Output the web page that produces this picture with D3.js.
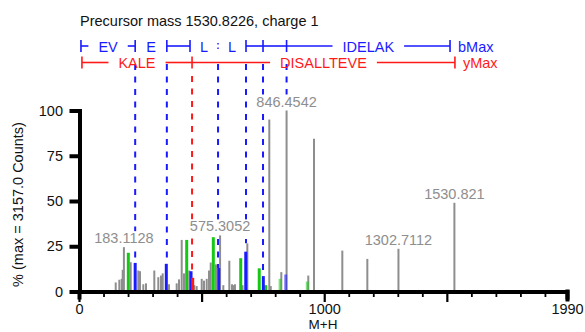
<!DOCTYPE html>
<html>
<head>
<meta charset="utf-8">
<script src="https://cdn.jsdelivr.net/npm/d3@7"></script>
<style>
  html, body { margin: 0; padding: 0; background: #fff; }
  svg { display: block; font-family: "Liberation Sans", Arial, sans-serif; }
</style>
</head>
<body>
<svg id="chart" width="585" height="332"></svg>
<script>
// ---------------- data ----------------
const titleText = "Precursor mass 1530.8226, charge 1";
const yAxisLabel = "% (max = 3157.0 Counts)";
const xAxisLabel = "M+H";
const xDomain = [0, 1990];
const yTicks = [0, 25, 50, 75, 100];
const xLabelTicks = [0, 1000, 1990];

// peaks: m/z, relative intensity (%), ion type (o = unassigned, n = neutral-loss / other, b = b ion, y = y ion)
const peakMass = [149.7, 164.4, 174.1, 178.2, 183.11, 201.1, 210.9, 229.1, 241.8, 248.8,
  262.2, 273.2, 307.1, 323.4, 334.4, 341.4, 356.0, 367.0, 398.4, 407.8,
  418.8, 428.2, 439.2, 449.8, 456.8, 463.7, 470.2, 480.0, 500.4, 509.8,
  520.8, 530.2, 537.1, 547.7, 558.7, 569.7, 575.31, 588.5, 613.0, 624.0,
  630.0, 636.0, 659.5, 667.0, 680.0, 686.4, 735.0, 751.6, 761.4, 776.0,
  782.0, 820.0, 825.0, 843.0, 846.45, 931.0, 935.0, 958.4, 1073.8, 1175.8,
  1302.71, 1530.82];
const peakPct = [5, 6.5, 7, 12, 24.5, 21.4, 16.2, 15.8, 11.6, 11.2,
  4, 4.5, 11.6, 7.9, 8.8, 10, 15.3, 4, 4.5, 6.7,
  28.5, 10, 28.5, 11.6, 11.2, 7.6, 3.5, 3, 7, 6,
  7, 11.6, 16, 30, 15, 13, 31, 3.5, 17, 4,
  3.5, 4, 18.4, 3.5, 22, 26.6, 12.8, 8.5, 3.5, 95,
  3, 7, 10.7, 9.4, 100, 5.5, 8.8, 84.4, 22.6, 18,
  23.6, 49];
const peakType = ["o", "o", "o", "o", "o", "n", "o", "b", "o", "o",
  "o", "o", "o", "o", "o", "o", "b", "o", "o", "o",
  "o", "o", "n", "o", "b", "y", "o", "o", "o", "o",
  "o", "o", "o", "n", "o", "b", "o", "o", "o", "o",
  "o", "o", "n", "o", "b", "o", "n", "b", "n", "o",
  "o", "n", "o", "b", "o", "n", "o", "o", "o", "o",
  "o", "o"];

// labelled peaks
const labelMass = [183.11, 575.31, 846.45, 1302.71, 1530.82];
const labelText = ["183.1128", "575.3052", "846.4542", "1302.7112", "1530.821"];

// fragment ladders: boundaries (m/z) and residue labels between them
const bBounds = [8, 229.1, 358.2, 452.7, 567, 681, 750.4, 846.45, 1513];
const bLabels = ["EV", "E", "", "L", "L", "", "", "IDELAK"];
const bWeak = [567];                      // ambiguous cleavage shown as ":"
const bMatched = [229.1, 358.2, 567, 681, 750.4, 846.45];
const yBounds = [12, 461, 1533];
const yLabels = ["KALE", "DISALLTEVE"];
const yMatched = [461];
const bEndLabel = "bMax";
const yEndLabel = "yMax";

// ---------------- drawing ----------------
const svg = d3.select("#chart");
const FONT = 14.5;
const GRAY = "#8e8e8e";
const BLUE = "#1a1aff";
const RED = "#ff1a1a";
const GREEN = "#14c814";

const x = d3.scaleLinear().domain(xDomain).range([79, 567]);
const y = d3.scaleLinear().domain([0, 100]).range([291.5, 110.5]);

// title
svg.append("text").attr("x", 80).attr("y", 26)
  .attr("font-size", FONT).attr("fill", "#111").text(titleText);

// dashed guide lines end at the top of the tallest peak sitting under them
function guideEnd(m) {
  let top = y(0);
  peakMass.forEach((pm, i) => {
    if (Math.abs(x(pm) - x(m)) < 1.6) top = Math.min(top, y(peakPct[i]));
  });
  return top;
}
svg.append("g").selectAll("line").data(bMatched).join("line")
  .attr("x1", d => x(d)).attr("x2", d => x(d))
  .attr("y1", 64).attr("y2", d => guideEnd(d))
  .attr("stroke", BLUE).attr("stroke-width", 2)
  .attr("stroke-dasharray", "6,6.5");
svg.append("g").selectAll("line").data(yMatched).join("line")
  .attr("x1", d => x(d)).attr("x2", d => x(d))
  .attr("y1", 76).attr("y2", d => guideEnd(d))
  .attr("stroke", RED).attr("stroke-width", 2)
  .attr("stroke-dasharray", "6,6.5");

// ladder drawing
function drawLadder(bounds, labels, rowY, color, weak, endLabel, tickTop, tickBot, textBase) {
  const g = svg.append("g");
  const GAP = 10;
  for (let i = 0; i < bounds.length - 1; i++) {
    const x0 = x(bounds[i]), x1 = x(bounds[i + 1]);
    const lab = labels[i];
    if (lab) {
      const t = g.append("text").attr("x", (x0 + x1) / 2).attr("y", textBase)
        .attr("text-anchor", "middle").attr("font-size", FONT).attr("fill", color).text(lab);
      const w = t.node().getComputedTextLength();
      const a = (x0 + x1) / 2 - w / 2 - GAP, b = (x0 + x1) / 2 + w / 2 + GAP;
      if (a - x0 > 1.5) g.append("line").attr("x1", x0).attr("x2", a).attr("y1", rowY).attr("y2", rowY)
        .attr("stroke", color).attr("stroke-width", 1.6);
      if (x1 - b > 1.5) g.append("line").attr("x1", b).attr("x2", x1).attr("y1", rowY).attr("y2", rowY)
        .attr("stroke", color).attr("stroke-width", 1.6);
    } else {
      g.append("line").attr("x1", x0).attr("x2", x1).attr("y1", rowY).attr("y2", rowY)
        .attr("stroke", color).attr("stroke-width", 1.6);
    }
  }
  bounds.forEach(m => {
    const isWeak = weak.includes(m);
    g.append("line").attr("x1", x(m)).attr("x2", x(m))
      .attr("y1", isWeak ? tickTop + 3 : tickTop).attr("y2", isWeak ? tickBot - 2 : tickBot)
      .attr("stroke", color).attr("stroke-width", isWeak ? 1.4 : 1.6)
      .attr("stroke-dasharray", isWeak ? "1.5,3" : null);
  });
  const last = bounds[bounds.length - 1];
  g.append("text").attr("x", x(last) + 8).attr("y", textBase)
    .attr("font-size", FONT).attr("fill", color).text(endLabel);
}
drawLadder(bBounds, bLabels, 46, BLUE, bWeak, bEndLabel, 40, 52, 51.5);
drawLadder(yBounds, yLabels, 62.5, RED, [], yEndLabel, 56.5, 68.5, 68);

// peak labels (white backing hides the dashed guide lines)
const lg = svg.append("g");
labelMass.forEach((m, i) => {
  const idx = peakMass.indexOf(m);
  const ty = y(peakPct[idx]) - 4;
  const r = lg.append("rect").attr("fill", "#fff");
  const t = lg.append("text").attr("x", x(m)).attr("y", ty)
    .attr("text-anchor", "middle").attr("font-size", FONT).attr("fill", GRAY).text(labelText[i]);
  const bb = t.node().getBBox();
  r.attr("x", bb.x - 1).attr("y", bb.y + 1).attr("width", bb.width + 2).attr("height", bb.height + 2);
});

// peaks
const peaks = peakMass.map((m, i) => ({ m, p: peakPct[i], t: peakType[i] }));
const order = { o: 0, n: 1, b: 2, y: 3 };
const colorOf = { o: GRAY, n: GREEN, b: BLUE, y: RED };
peaks.sort((a, b) => order[a.t] - order[b.t]);
svg.append("g").selectAll("line").data(peaks).join("line")
  .attr("x1", d => x(d.m)).attr("x2", d => x(d.m))
  .attr("y1", y(0)).attr("y2", d => y(d.p))
  .attr("stroke", d => colorOf[d.t])
  .attr("stroke-width", d => d.t === "o" ? 2 : 3)
  .attr("stroke-opacity", d => (d.t !== "o" && d.m > 800) ? 0.55 : 1);

// y axis
const yAxis = svg.append("g").attr("transform", "translate(79.5,0)")
  .call(d3.axisLeft(y).tickValues(yTicks).tickSize(10).tickSizeOuter(0).tickPadding(6));
yAxis.select(".domain").attr("stroke", "#000").attr("stroke-width", 4).attr("stroke-linecap", "square");
yAxis.selectAll(".tick line").attr("stroke", "#000").attr("stroke-width", 4);
yAxis.selectAll(".tick text").attr("font-size", FONT).attr("fill", "#111")
  .attr("font-family", "Liberation Sans, Arial, sans-serif").attr("x", -16.5);

// x axis
const xTickVals = d3.range(0, 2000, 100).concat([1990]);
const isMajor = v => v % 500 === 0 || v === 1990;
const xAxis = svg.append("g").attr("transform", "translate(0,291.5)")
  .call(d3.axisBottom(x).tickValues(xTickVals).tickSizeOuter(0).tickSize(6)
    .tickFormat(v => xLabelTicks.includes(v) ? String(v) : ""));
xAxis.select(".domain").attr("stroke", "#000").attr("stroke-width", 4).attr("stroke-linecap", "square");
xAxis.selectAll(".tick line").attr("stroke", "#000")
  .attr("y2", v => v === 1990 ? 10 : (isMajor(v) ? 10.5 : 5.5))
  .attr("y1", v => v === 1990 ? -2 : 0)
  .attr("stroke-width", v => v === 1990 ? 4 : (isMajor(v) ? 2.2 : 1.8));
xAxis.selectAll(".tick text").attr("font-size", FONT).attr("fill", "#111")
  .attr("font-family", "Liberation Sans, Arial, sans-serif").attr("y", 22).attr("dy", 0);

// axis titles
svg.append("text").attr("x", (x(0) + x(1990)) / 2).attr("y", 329)
  .attr("text-anchor", "middle").attr("font-size", 13.5).attr("fill", "#111").text(xAxisLabel);
svg.append("text").attr("transform", "translate(22.5,204.5) rotate(-90)")
  .attr("text-anchor", "middle").attr("font-size", FONT).attr("fill", "#111").text(yAxisLabel);
</script>
</body>
</html>
